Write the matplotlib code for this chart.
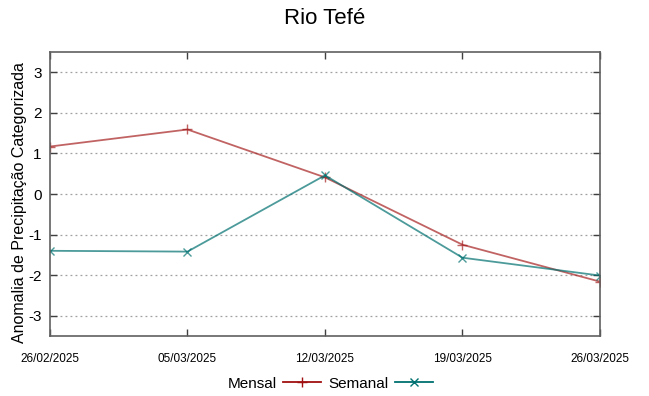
#!/usr/bin/env python3

import matplotlib
matplotlib.use("Agg")
import matplotlib.pyplot as plt
import matplotlib.dates as mdates
import numpy as np
import pandas as pd

# Data
dates = ["2025-02-26", "2025-03-05", "2025-03-12", "2025-03-19", "2025-03-26"]
mensal = [1.17, 1.59, 0.41, -1.25, -2.16]
semanal = [-1.40, -1.42, 0.46, -1.57, -2.01]
yticks = [-3, -2, -1, 0, 1, 2, 3]


def main():
    '''
    Draw the Rio Tefe anomaly chart
    '''
    plt.rcParams["font.family"] = ["Liberation Sans", "DejaVu Sans"]
    plt.rcParams["axes.unicode_minus"] = False
    x = pd.to_datetime(dates)

    fig = plt.figure(figsize=(6.49, 3.96), dpi=100)
    ax = fig.add_axes([0.077, 0.1515, 0.8475, 0.7172])

    ax.plot(x, mensal, color="#a01010", alpha=0.65, lw=1.3,
            marker="+", markersize=7, mew=1.0, label="Mensal")
    ax.plot(x, semanal, color="#007070", alpha=0.7, lw=1.3,
            marker="x", markersize=6, mew=1.0, label="Semanal")

    ax.set_xlim(x[0], x[-1])
    ax.set_ylim(-3.5, 3.5)
    ax.set_xticks(x)
    ax.xaxis.set_major_formatter(mdates.DateFormatter("%d/%m/%Y"))
    ax.set_yticks(yticks)

    ax.grid(axis="y", color="#a0a0a0", linestyle=(0, (1.5, 2.5)), lw=0.9)
    ax.tick_params(axis="both", direction="in", length=5, width=1,
                   color="#404040", top=True, right=True)
    ax.tick_params(axis="x", labelsize=8.5, pad=12)
    ax.tick_params(axis="y", labelsize=11, pad=6)
    for spine in ax.spines.values():
        spine.set_color("#606060")
        spine.set_linewidth(1.2)

    ax.set_ylabel("Anomalia de Precipitação Categorizada", fontsize=11.5)
    ax.yaxis.set_label_coords(-0.042, 0.47)
    ax.set_title("Rio Tefé", fontsize=16, pad=20)

    leg = ax.legend(loc="upper center", bbox_to_anchor=(0.51, -0.095), ncol=2,
                    frameon=False, markerfirst=False, fontsize=11,
                    handlelength=2.5, columnspacing=0.5, handletextpad=0.4)
    for line in leg.get_lines():
        line.set_alpha(1.0)

    plt.savefig("out.png", dpi=100)


if __name__ == '__main__':
    main()
